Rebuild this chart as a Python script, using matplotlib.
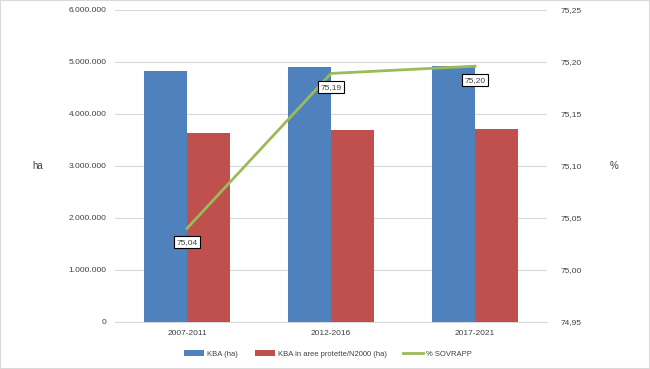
import numpy as np
import matplotlib.pyplot as plt
from matplotlib.ticker import FuncFormatter

# data
categories = ['2007-2011', '2012-2016', '2017-2021']
kba = [4830000, 4900000, 4920000]
kba_protette = [3630000, 3700000, 3710000]
sovrapp = [75.04, 75.189, 75.196]
sovrapp_labels = ['75,04', '75,19', '75,20']

plt.rcParams['font.family'] = ['Liberation Sans', 'DejaVu Sans']

fig = plt.figure(figsize=(6.5, 3.69), dpi=100)
ax = fig.add_axes([115/650, 1 - 322/369, 432/650, 312/369])
ax2 = ax.twinx()

x = np.arange(len(categories))
w = 0.3
ax.bar(x - w/2, kba, w, color='#4f81bd', label='KBA (ha)', zorder=3)
ax.bar(x + w/2, kba_protette, w, color='#c0504d', label='KBA in aree protette/N2000 (ha)', zorder=3)
ax.set_xlim(-0.5, 2.5)
ax.set_ylim(0, 6000000)
ax.set_yticks(np.arange(0, 6000001, 1000000))
ax.yaxis.set_major_formatter(FuncFormatter(lambda v, p: f'{int(v):,}'.replace(',', '.')))
ax.grid(axis='y', color='#d9d9d9', linewidth=0.8, zorder=0)
ax.set_xticks(x)
ax.set_xticklabels(categories)
ax.tick_params(axis='both', length=0, labelsize=6, colors='#404040', pad=6)
ax.set_ylabel('ha', fontsize=7, color='#404040', rotation=0, va='center')
ax.yaxis.set_label_coords(-0.178, 0.5)

line, = ax2.plot(x, sovrapp, color='#9bbb59', linewidth=2, label='% SOVRAPP', zorder=4)
ax2.set_ylim(74.95, 75.25)
ax2.set_yticks([74.95, 75.00, 75.05, 75.10, 75.15, 75.20, 75.25])
ax2.yaxis.set_major_formatter(FuncFormatter(lambda v, p: f'{v:.2f}'.replace('.', ',')))
ax2.tick_params(axis='y', length=0, labelsize=6, colors='#404040', pad=10)
ax2.set_ylabel('%', fontsize=7, color='#404040', rotation=0, va='center')
ax2.yaxis.set_label_coords(1.155, 0.5)

for xi, v, lab in zip(x, sovrapp, sovrapp_labels):
    ax2.annotate(lab, (xi, v), xytext=(0, -10), textcoords='offset points',
                 ha='center', va='center', fontsize=6, color='#404040',
                 bbox=dict(boxstyle='square,pad=0.3', fc='white', ec='black', lw=0.8), zorder=5)

for a in (ax, ax2):
    for s in ['top', 'left', 'right']:
        a.spines[s].set_visible(False)
ax.spines['bottom'].set_color('#d9d9d9')
ax2.spines['bottom'].set_visible(False)

h1, l1 = ax.get_legend_handles_labels()
fig.legend(h1 + [line], l1 + ['% SOVRAPP'], loc='center', bbox_to_anchor=(0.505, 1 - 354/369),
           ncol=3, frameon=False, fontsize=5.5, handlelength=2.6, handleheight=0.8,
           handletextpad=0.4, columnspacing=2.2, labelcolor='#404040')

fig.patches.append(plt.Rectangle((0, 0), 1, 1, transform=fig.transFigure, fill=False,
                                 ec='#d9d9d9', lw=1.5))
fig.savefig('out.png', dpi=100)
